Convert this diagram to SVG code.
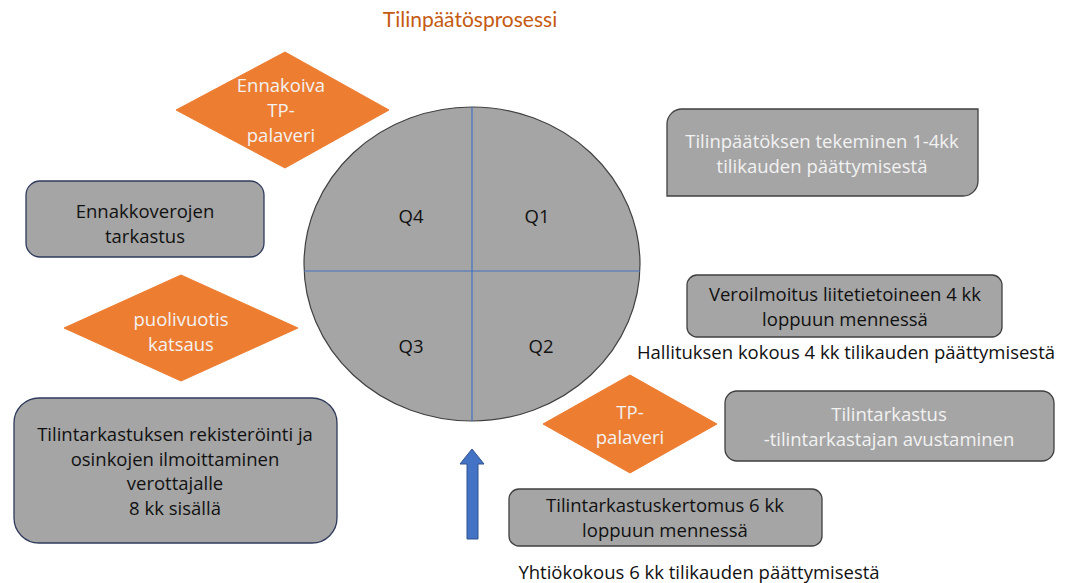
<svg xmlns="http://www.w3.org/2000/svg" width="1065" height="583" viewBox="0 0 1065 583">
<style>
text{font-family:"Open Sans","Liberation Sans",sans-serif;font-size:18.5px;text-anchor:middle}
.w{fill:#F2F2F2}
.k{fill:#111}
.dia{fill:#ED7D31;stroke:#ED7D31;stroke-width:1}
.box{fill:#A5A5A5;stroke-width:1.3}
.bb{stroke:#2F3B5C}
.bg{stroke:#404040}
.ax{stroke:#4472C4;stroke-width:1.2;fill:none}
</style>
<rect width="1065" height="583" fill="#fff"/>
<text id="title" x="470" y="27" style="fill:#C55A11;font-size:21px;font-family:Lato,'Open Sans',sans-serif">Tilinpäätösprosessi</text>

<g id="cycle">
<ellipse cx="472" cy="264" rx="168" ry="157" fill="#A5A5A5" stroke="#404040" stroke-width="1.2"/>
<line class="ax" x1="472" y1="107" x2="472" y2="421"/>
<line class="ax" x1="304" y1="271" x2="640" y2="271"/>
<text class="k" x="411" y="223">Q4</text>
<text class="k" x="537" y="223">Q1</text>
<text class="k" x="411" y="353">Q3</text>
<text class="k" x="541" y="353">Q2</text>
</g>

<g id="ennakoiva">
<polygon class="dia" points="285,52 389,110 285,168 176,110"/>
<text class="w" x="281" y="92">Ennakoiva</text>
<text class="w" x="281" y="117">TP-</text>
<text class="w" x="281" y="142">palaveri</text>
</g>

<g id="tilinpaatos">
<path class="box bg" d="M682,109 H978 V181 A15,15 0 0 1 963,196 H667 V124 A15,15 0 0 1 682,109 Z"/>
<text class="w" x="822" y="148">Tilinpäätöksen tekeminen 1-4kk</text>
<text class="w" x="822" y="173">tilikauden päättymisestä</text>
</g>

<g id="ennakkoverot">
<rect class="box bb" x="26" y="181" width="238" height="76" rx="14"/>
<text class="k" x="145" y="218">Ennakkoverojen</text>
<text class="k" x="145" y="243">tarkastus</text>
</g>

<g id="puolivuotis">
<polygon class="dia" points="181,275 298,328 181,381 64,328"/>
<text class="w" x="181" y="326">puolivuotis</text>
<text class="w" x="181" y="351">katsaus</text>
</g>

<g id="veroilmoitus">
<rect class="box bg" x="687" y="275" width="315" height="62" rx="10"/>
<text class="k" x="845" y="301">Veroilmoitus liitetietoineen 4 kk</text>
<text class="k" x="845" y="326">loppuun mennessä</text>
</g>

<g id="hallitus">
<text class="k" x="846" y="359">Hallituksen kokous 4 kk tilikauden päättymisestä</text>
</g>

<g id="tppalaveri">
<polygon class="dia" points="630,375 717,424 630,473 543,424"/>
<text class="w" x="630" y="419">TP-</text>
<text class="w" x="630" y="444">palaveri</text>
</g>

<g id="tilintarkastus">
<rect class="box bg" x="725" y="391" width="329" height="70" rx="12"/>
<text class="w" x="889" y="421">Tilintarkastus</text>
<text class="w" x="889" y="446">-tilintarkastajan avustaminen</text>
</g>

<g id="rekisterointi">
<rect class="box bb" x="14" y="398" width="323" height="145" rx="25"/>
<text class="k" x="175" y="441">Tilintarkastuksen rekisteröinti ja</text>
<text class="k" x="175" y="466">osinkojen ilmoittaminen</text>
<text class="k" x="175" y="490">verottajalle</text>
<text class="k" x="175" y="515">8 kk sisällä</text>
</g>

<g id="kertomus">
<rect class="box bg" x="509" y="489" width="313" height="57" rx="10"/>
<text class="k" x="665" y="512">Tilintarkastuskertomus 6 kk</text>
<text class="k" x="665" y="537">loppuun mennessä</text>
</g>

<g id="yhtiokokous">
<text class="k" x="699" y="579">Yhtiökokous 6 kk tilikauden päättymisestä</text>
</g>

<g id="connectors">
<polygon points="472,449 484,464 478,464 478,539 467,539 467,464 460,464" fill="#4472C4" stroke="#2F528F" stroke-width="1"/>
</g>
</svg>
